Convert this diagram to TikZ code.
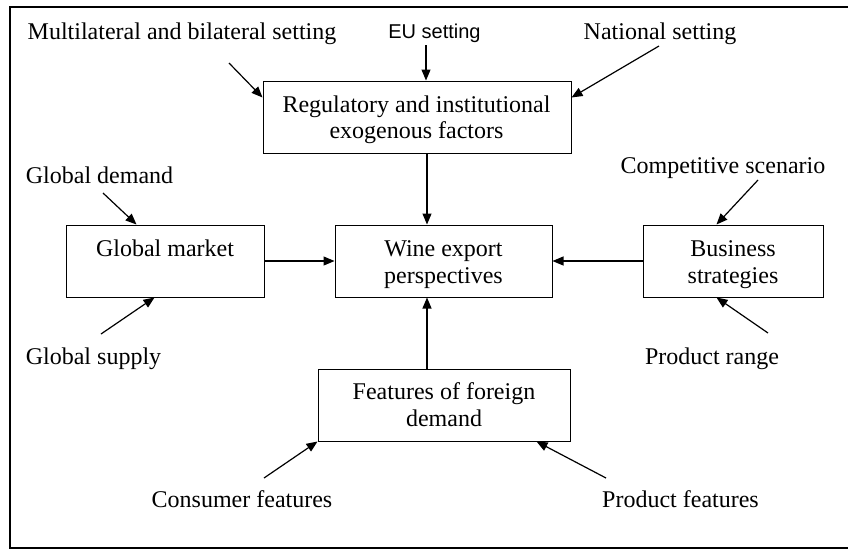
\documentclass[tikz,border=0pt]{standalone}
\usepackage{fontspec}
\setmainfont{Liberation Serif}
\newfontfamily\eufont{Liberation Sans}
\usetikzlibrary{arrows.meta,calc}
\begin{document}
\begin{tikzpicture}[x=1pt,y=-1pt,
  txt/.style={font=\fontsize{24}{27}\selectfont, inner sep=0pt, anchor=base},
  box/.style={draw, line width=1pt, minimum height=72pt, inner sep=0pt},
  arr/.style={line width=1.2pt, -{Triangle[length=11pt,width=9pt]}}]
\useasboundingbox (0,0) rectangle (848,552);
% frame
\draw[line width=1.5pt] (848,7) -- (10,7) -- (10,548) -- (848,548);
% boxes
\node[box, minimum width=308pt] (reg) at (417,117) {};
\node[box, minimum width=198pt] (gm) at (165,261) {};
\node[box, minimum width=217pt] (wine) at (443.5,261) {};
\node[box, minimum width=180pt] (bus) at (733,261) {};
\node[box, minimum width=252pt] (feat) at (444,405) {};
% box texts
\node[txt] (reg1) at (416.5,112) {Regulatory and institutional};
\node[txt] (reg2) at (416.5,138) {exogenous factors};
\node[txt] (gm1) at (165,256) {Global market};
\node[txt] (wine1) at (443.5,256) {Wine export};
\node[txt] (wine2) at (443.5,283) {perspectives};
\node[txt] (bus1) at (733,256) {Business};
\node[txt] (bus2) at (733,283) {strategies};
\node[txt] (feat1) at (444,399) {Features of foreign};
\node[txt] (feat2) at (444,426) {demand};
% labels
\node[txt] (mult) at (182,39) {Multilateral and bilateral setting};
\node[txt, font=\eufont\fontsize{20}{24}\selectfont] (eu) at (434.5,38) {EU setting};
\node[txt] (nat) at (660,39) {National setting};
\node[txt] (comp) at (723,173) {Competitive scenario};
\node[txt] (gdem) at (99.5,183) {Global demand};
\node[txt] (gsup) at (93.5,364) {Global supply};
\node[txt] (prange) at (712,364) {Product range};
\node[txt] (cons) at (242,507) {Consumer features};
\node[txt] (prodf) at (680.5,507) {Product features};
% free ends and attachment points
\coordinate (cmult) at (229,63);
\coordinate (ceu) at (426,45);
\coordinate (cnat) at (659,46);
\coordinate (ccomp) at (758,180);
\coordinate (cgdem) at (103,193);
\coordinate (cgsup) at (101,334);
\coordinate (cprange) at (768,333);
\coordinate (ccons) at (264,478);
\coordinate (cprodf) at (606,478);
\coordinate (regs) at ($(reg.south)+(10,0)$);
\coordinate (featn) at ($(feat.north)+(-17,0)$);
% connectors
\draw[arr] (cmult) -- ($(reg.north west)+(0,17)$);
\draw[arr] (ceu) -- (ceu |- reg.north);
\draw[arr] (cnat) -- ($(reg.north east)+(0,17)$);
\draw[arr] (regs) -- (regs |- wine.north);
\draw[arr] (cgdem) -- ($(gm.north west)+(71,0)$);
\draw[arr] (cgsup) -- ($(gm.south west)+(89,0)$);
\draw[arr] (gm) -- (wine);
\draw[arr] (bus) -- (wine);
\draw[arr] (ccomp) -- ($(bus.north west)+(74,0)$);
\draw[arr] (cprange) -- ($(bus.south west)+(74,0)$);
\draw[arr] (featn) -- (featn |- wine.south);
\draw[arr] (ccons) -- (feat.south west);
\draw[arr] (cprodf) -- ($(feat.south east)+(-34,0)$);
\end{tikzpicture}
\end{document}
